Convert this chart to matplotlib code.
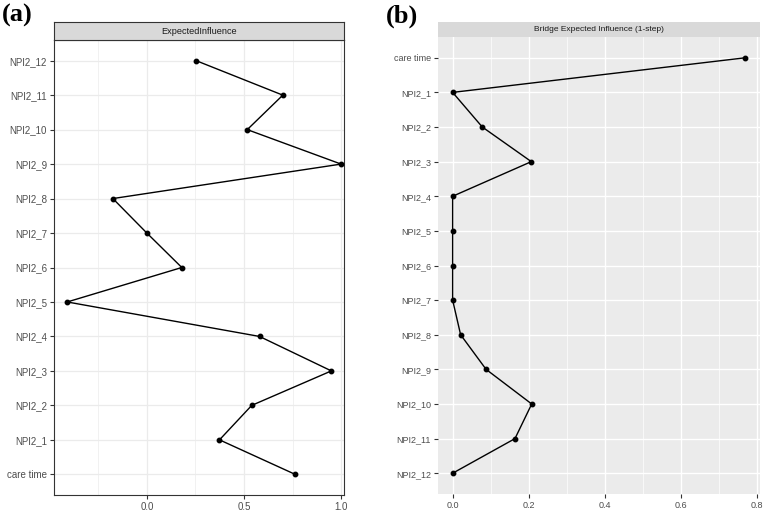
import matplotlib
matplotlib.use("Agg")
import matplotlib.pyplot as plt
from matplotlib.ticker import MultipleLocator

plt.rcParams['font.family'] = ['Liberation Sans', 'DejaVu Sans']

nodes = ['care time', 'NPI2_1', 'NPI2_2', 'NPI2_3', 'NPI2_4', 'NPI2_5', 'NPI2_6',
         'NPI2_7', 'NPI2_8', 'NPI2_9', 'NPI2_10', 'NPI2_11', 'NPI2_12']

# (a) expected influence, standardized
ei = [0.763, 0.374, 0.54, 0.95, 0.58, -0.41, 0.18, 0.0, -0.175, 1.0, 0.517, 0.70, 0.254]
# (b) bridge expected influence (1-step)
bei = [0.77, 0.0, 0.078, 0.207, 0.0, 0.0, 0.0, 0.0, 0.021, 0.088, 0.208, 0.164, 0.0]

W, H = 767, 513
fig = plt.figure(figsize=(W / 100, H / 100), dpi=100)


def box(l, t, r, b):
    return [l / W, 1 - b / H, (r - l) / W, (b - t) / H]


def style_axis(ax, size=7):
    ax.tick_params(axis='both', length=3, width=0.8, color='#333333',
                   labelcolor='#4D4D4D', labelsize=size, pad=2)
    ax.set_ylim(-0.6, len(nodes) - 0.4)


pos = list(range(len(nodes)))

# ---------- panel (a): theme_bw ----------
ax1 = fig.add_axes(box(54, 40, 344, 495))
ax1.plot(ei, pos, color='black', lw=1.0, marker='o', ms=3.2, zorder=3)
ax1.set_yticks(pos)
ax1.set_yticklabels(nodes)
ax1.set_xlim(-0.478, 1.015)
ax1.xaxis.set_minor_locator(MultipleLocator(0.25))
ax1.set_xticks([0.0, 0.5, 1.0])
ax1.set_xticklabels(['0.0', '0.5', '1.0'])
ax1.grid(True, which='major', color='#EBEBEB', lw=0.9)
ax1.grid(True, which='minor', axis='x', color='#EBEBEB', lw=0.5)
ax1.tick_params(which='minor', length=0)
ax1.set_axisbelow(True)
for s in ax1.spines.values():
    s.set_color('#333333')
    s.set_linewidth(0.8)
style_axis(ax1)

strip1 = fig.add_axes(box(54, 22, 344, 40))
strip1.set_facecolor('#D9D9D9')
strip1.set_xticks([])
strip1.set_yticks([])
for s in strip1.spines.values():
    s.set_color('#333333')
    s.set_linewidth(0.8)
strip1.text(0.5, 0.5, 'ExpectedInfluence', ha='center', va='center',
            fontsize=6.6, color='#1A1A1A', transform=strip1.transAxes)

# ---------- panel (b): theme_gray ----------
ax2 = fig.add_axes(box(438, 37, 760, 494))
ax2.set_facecolor('#EBEBEB')
ax2.plot(bei, pos, color='black', lw=1.0, marker='o', ms=3.2, zorder=3)
ax2.set_yticks(pos)
ax2.set_yticklabels(nodes)
ax2.set_xlim(-0.0385, 0.8085)
ax2.set_xticks([0.0, 0.2, 0.4, 0.6, 0.8])
ax2.set_xticklabels(['0.0', '0.2', '0.4', '0.6', '0.8'])
ax2.xaxis.set_minor_locator(MultipleLocator(0.1))
ax2.grid(True, which='major', color='white', lw=1.0)
ax2.grid(True, which='minor', axis='x', color='white', lw=0.5)
ax2.tick_params(which='minor', length=0)
ax2.set_axisbelow(True)
for s in ax2.spines.values():
    s.set_visible(False)
style_axis(ax2, size=6.5)
ax2.invert_yaxis()

strip2 = fig.add_axes(box(438, 22, 760, 37))
strip2.set_facecolor('#D9D9D9')
strip2.set_xticks([])
strip2.set_yticks([])
for s in strip2.spines.values():
    s.set_visible(False)
strip2.text(0.5, 0.5, 'Bridge Expected Influence (1-step)', ha='center', va='center',
            fontsize=6, color='#1A1A1A', transform=strip2.transAxes)

# panel letters
fig.text(2 / W, 1 - 15 / H, '(a)', fontsize=19, fontweight='bold',
         family='Liberation Serif', va='center', ha='left')
fig.text(386 / W, 1 - 16 / H, '(b)', fontsize=19, fontweight='bold',
         family='Liberation Serif', va='center', ha='left')

fig.savefig('out.png', dpi=100)
